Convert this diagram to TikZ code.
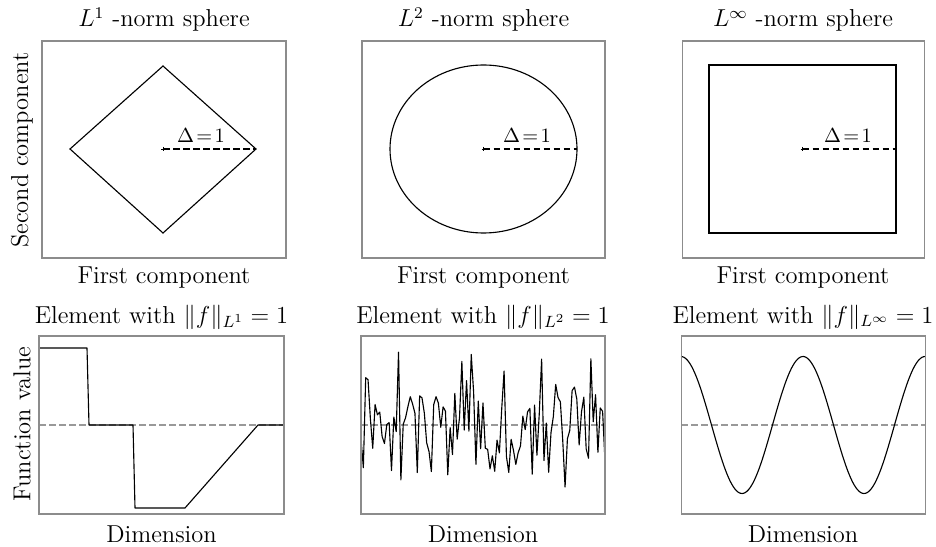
\documentclass[tikz,border=0pt,12pt]{standalone}
\usetikzlibrary{calc}
\tikzset{
  frame/.style   = { draw=black!45, line width=0.5pt },
  sphere/.style  = { black, line width=0.55pt },
  cube/.style    = { black, line width=0.8pt },
  radius/.style  = { black, line width=0.55pt, dash pattern=on 3.3pt off 1.6pt },
  zero/.style    = { black!40, line width=0.55pt, dash pattern=on 3.3pt off 1.6pt },
  signal/.style  = { black, line width=0.55pt, line join=round },
  centre/.style  = { black, line width=0.4pt },
  title/.style   = { anchor=base, inner sep=0pt },
  axislabel/.style = { anchor=base, inner sep=0pt },
  sidelabel/.style = { rotate=90, inner sep=0pt },
  deltalabel/.style = { anchor=base, inner sep=0pt, font=\footnotesize },
}
\newcommand{\deltaone}{$\Delta\mkern2mu{=}\mkern2mu1$}

\begin{document}
\begin{tikzpicture}[x=0.49pt,y=-0.49pt]
    \useasboundingbox (0,0) rectangle (936,547);

    % Top row: unit spheres
    % L^1
    \draw[sphere] (70,149) -- (163,66) -- (256,149) -- (163,233) -- cycle;
    \draw[radius] (163,149) -- (256,149);
    \draw[centre] (161,149) -- (165,149) (163,147) -- (163,151);
    \node[deltalabel] (d1) at (201,143) {\deltaone};

    % L^2
    \draw[sphere] (483.5,149) ellipse (93.5 and 84);
    \draw[radius] (483.5,149) -- (577,149);
    \draw[centre] (481.5,149) -- (485.5,149) (483.5,147) -- (483.5,151);
    \node[deltalabel] (d2) at (527,143) {\deltaone};

    % L^infty
    \draw[cube] (709,65) rectangle (896,233);
    \draw[radius] (802.5,149) -- (896,149);
    \draw[centre] (800.5,149) -- (804.5,149) (802.5,147) -- (802.5,151);
    \node[deltalabel] (d3) at (848,143) {\deltaone};

    % frames
    \draw[frame] (42,41) rectangle (286,258);
    \draw[frame] (362,41) rectangle (605,258);
    \draw[frame] (682,41) rectangle (924,258);

    % Bottom row: elements
    % zero lines
    \draw[zero] (39,425) -- (284,425);
    \draw[zero] (361,425) -- (605,425);
    \draw[zero] (681,425) -- (925,425);

    % L^1 element
    \draw[signal] (39,348) -- (87,348) -- (89,425) -- (133,425) -- (135,508)
        -- (185,508) -- (258,425) -- (284,425);

    % L^2 element
    \begin{scope}
        \clip (361,336) rectangle (605,514);
        \pgfmathsetseed{31}
        \draw[signal] plot[domain=0:1, samples=105]
            ({361+244*\x}, {425-34*(rand+rand+rand)});
    \end{scope}

    % L^infty element
    \draw[signal] plot[domain=0:1, samples=160, smooth]
        ({681+244*\x}, {425-68.5*cos(720*\x)});

    % frames
    \draw[frame] (39,336) rectangle (284,514);
    \draw[frame] (361,336) rectangle (605,514);
    \draw[frame] (681,336) rectangle (925,514);

    % Draw labels
    \node[title] (t1) at (164,27) {$L^1$ -norm sphere};
    \node[title] (t2) at (483.5,27) {$L^2$ -norm sphere};
    \node[title] (t3) at (803,27) {$L^\infty$ -norm sphere};

    \node[axislabel] (x1) at (164,283) {First component};
    \node[axislabel] (x2) at (483.5,283) {First component};
    \node[axislabel] (x3) at (803,283) {First component};

    \node[title] (e1) at (161.5,323) {Element with $\|f\|_{L^1} = 1$};
    \node[title] (e2) at (483,323) {Element with $\|f\|_{L^2} = 1$};
    \node[title] (e3) at (803,323) {Element with $\|f\|_{L^\infty} = 1$};

    \node[axislabel] (n1) at (161.5,542) {Dimension};
    \node[axislabel] (n2) at (483,542) {Dimension};
    \node[axislabel] (n3) at (803,542) {Dimension};

    \node[sidelabel] (s1) at (22,150) {Second component};
    \node[sidelabel] (s2) at (22,424) {Function value};

\end{tikzpicture}
\end{document}
